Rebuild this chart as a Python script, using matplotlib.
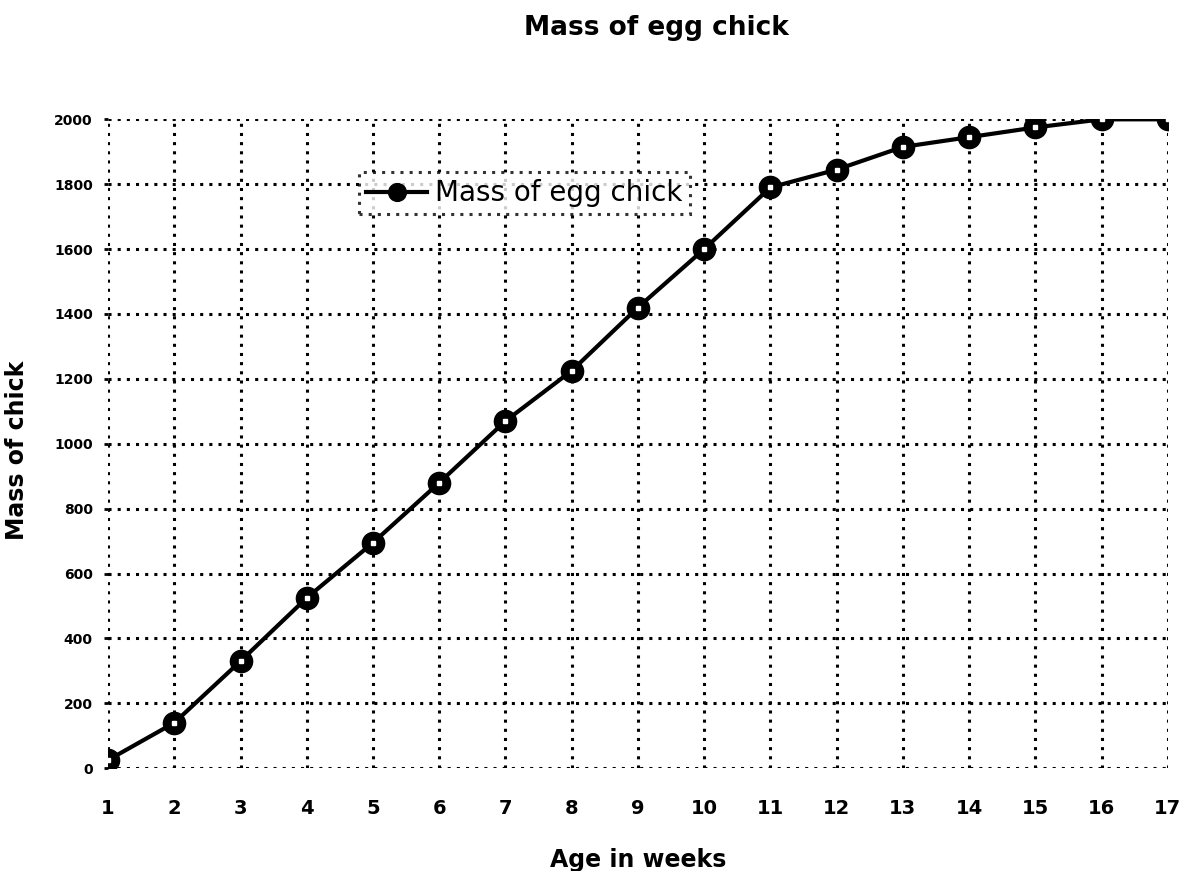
import matplotlib
matplotlib.use("Agg")
import matplotlib.pyplot as plt

# chick mass by week
weeks = list(range(1, 18))
mass = [25, 140, 330, 525, 695, 880, 1070, 1225, 1420, 1600,
        1790, 1845, 1915, 1945, 1975, 2000, 2000]
y_ticks = list(range(0, 2001, 200))

plt.rcParams.update({"font.family": "DejaVu Sans", "font.weight": "bold"})

fig = plt.figure(figsize=(11.82, 8.71), dpi=100)
ax = fig.add_axes([0.0914, 0.118, 0.8966, 0.745])

line, = ax.plot(weeks, mass, color="black", lw=3, marker="o", ms=16,
                mfc="black", mec="black", label="Mass of egg chick", zorder=3)
ax.plot(weeks, mass, ls="none", marker="s", ms=3.5, mfc="white", mec="white", zorder=4)

ax.set_xlim(1, 17)
ax.set_ylim(0, 2000)
ax.set_xticks(weeks)
ax.set_yticks(y_ticks)
ax.tick_params(axis="x", length=0, pad=22, labelsize=14)
ax.tick_params(axis="y", length=3, width=2, pad=8, labelsize=10)
for s in ax.spines.values():
    s.set_visible(False)
ax.grid(True, color="black", ls=(0, (1, 2)), lw=2.2)
ax.set_axisbelow(True)

ax.set_xlabel("Age in weeks", fontsize=17, weight="bold", labelpad=22)
ax.set_ylabel("Mass of chick", fontsize=17, weight="bold")
ax.yaxis.set_label_coords(-0.075, 0.49)
fig.text(0.555, 0.968, "Mass of egg chick", ha="center", va="center",
         fontsize=19, weight="bold")

leg = ax.legend(loc="upper left", bbox_to_anchor=(0.292, 0.818),
                bbox_transform=fig.transFigure, fontsize=20, frameon=True,
                fancybox=False, handlelength=2.2, borderpad=0.25,
                handletextpad=0.3, markerscale=0.8)
frame = leg.get_frame()
frame.set_edgecolor("black")
frame.set_linestyle((0, (1, 2)))
frame.set_linewidth(2.2)
for t in leg.get_texts():
    t.set_fontweight("normal")

fig.savefig("out.png", dpi=100)
